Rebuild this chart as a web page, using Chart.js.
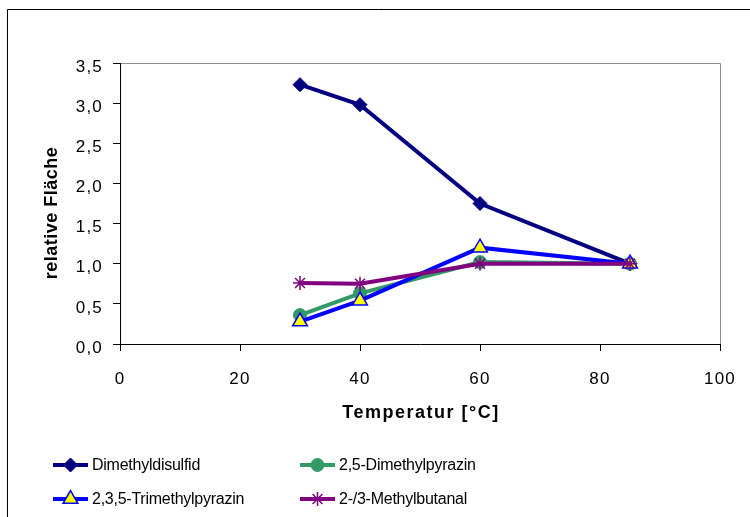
<!DOCTYPE html>
<html>
<head>
<meta charset="utf-8">
<script src="https://cdn.jsdelivr.net/npm/chart.js@4"></script>
<style>
  body{ margin:0; background:#fff; }
  #wrap{ width:750px; height:517px; }
</style>
</head>
<body>
<div id="wrap"><canvas id="chart" width="750" height="517"></canvas></div>
<script>
//--------------------------------------------------
// DATA
//--------------------------------------------------
const temps = [30, 40, 60, 85];
const dimethyldisulfid = [3.23, 2.98, 1.75, 1.0];
const dimethylpyrazin = [0.36, 0.63, 1.02, 1.0];
const trimethylpyrazin = [0.28, 0.54, 1.2, 1.0];
const methylbutanal = [0.76, 0.75, 1.0, 1.0];

const seriesNames = ["Dimethyldisulfid", "2,5-Dimethylpyrazin", "2,3,5-Trimethylpyrazin", "2-/3-Methylbutanal"];
const yTickLabels = ["0,0", "0,5", "1,0", "1,5", "2,0", "2,5", "3,0", "3,5"];
const xTickLabels = ["0", "20", "40", "60", "80", "100"];
const xTitle = "Temperatur [°C]";
const yTitle = "relative Fläche";

const FONT = "'Liberation Sans', Arial, sans-serif";

function pts(values){
  return temps.map((t, i) => ({x:t, y:values[i]}));
}

//--------------------------------------------------
// PLUGINS
//--------------------------------------------------
const frame = {
  id:"frame",
  beforeDraw(chart){
    const ctx = chart.ctx;
    ctx.save();
    ctx.fillStyle = "#fff";
    ctx.fillRect(0, 0, chart.width, chart.height);
    ctx.strokeStyle = "#000";
    ctx.lineWidth = 1;
    ctx.beginPath();
    ctx.moveTo(7.5, chart.height);
    ctx.lineTo(7.5, 9.5);
    ctx.lineTo(chart.width, 9.5);
    ctx.stroke();
    // plot area top/right border
    const a = chart.chartArea;
    ctx.strokeStyle = "#8c8c8c";
    ctx.beginPath();
    ctx.moveTo(a.left, a.top + 0.5);
    ctx.lineTo(a.right + 0.5, a.top + 0.5);
    ctx.lineTo(a.right + 0.5, a.bottom);
    ctx.stroke();
    ctx.restore();
    // wide tick labels like the original
    ctx.letterSpacing = "1.2px";
  }
};

const texts = {
  id:"texts",
  afterDraw(chart){
    const ctx = chart.ctx;
    const a = chart.chartArea;
    ctx.save();
    ctx.fillStyle = "#000";
    ctx.textAlign = "center";
    ctx.textBaseline = "middle";
    ctx.font = "bold 18px " + FONT;
    ctx.letterSpacing = "1.5px";
    ctx.fillText(xTitle, (a.left + a.right) / 2 + 1, 413);
    ctx.letterSpacing = "0.5px";
    ctx.translate(52, 213);
    ctx.rotate(-Math.PI / 2);
    ctx.fillText(yTitle, 0, 0);
    ctx.restore();

    // legend
    const spots = [[53, 465], [300, 465], [53, 499], [300, 499]];
    chart.data.datasets.forEach((ds, i) => {
      const [x, y] = spots[i];
      ctx.save();
      ctx.strokeStyle = ds.borderColor;
      ctx.lineWidth = ds.borderWidth;
      ctx.beginPath();
      ctx.moveTo(x, y);
      ctx.lineTo(x + 35, y);
      ctx.stroke();
      ctx.fillStyle = ds.pointBackgroundColor;
      ctx.strokeStyle = ds.pointBorderColor;
      ctx.lineWidth = ds.pointBorderWidth;
      Chart.helpers.drawPoint(ctx, {pointStyle:ds.pointStyle, radius:ds.pointRadius, rotation:0, borderWidth:ds.pointBorderWidth}, x + 17.5, y);
      ctx.fillStyle = "#000";
      ctx.font = "16px " + FONT;
      ctx.letterSpacing = "-0.25px";
      ctx.textBaseline = "middle";
      ctx.fillText(ds.label, x + 39, y + 1);
      ctx.restore();
    });
    ctx.letterSpacing = "0px";
  }
};

//--------------------------------------------------
// CHART
//--------------------------------------------------
new Chart(document.getElementById("chart"), {
  type:"line",
  data:{
    datasets:[
      { label:seriesNames[0], data:pts(dimethyldisulfid), borderColor:"#000080", borderWidth:4,
        pointStyle:"rectRot", pointRadius:7, pointBackgroundColor:"#000080", pointBorderColor:"#000080", pointBorderWidth:1, order:3 },
      { label:seriesNames[1], data:pts(dimethylpyrazin), borderColor:"#339966", borderWidth:4,
        pointStyle:"circle", pointRadius:6.5, pointBackgroundColor:"#339966", pointBorderColor:"#339966", pointBorderWidth:1, order:2 },
      { label:seriesNames[2], data:pts(trimethylpyrazin), borderColor:"#0000ff", borderWidth:4,
        pointStyle:"triangle", pointRadius:8.5, pointBackgroundColor:"#ffff00", pointBorderColor:"#0000ff", pointBorderWidth:1.5, order:1 },
      { label:seriesNames[3], data:pts(methylbutanal), borderColor:"#800080", borderWidth:4,
        pointStyle:"star", pointRadius:7, pointBackgroundColor:"#800080", pointBorderColor:"#800080", pointBorderWidth:1.5, order:0 }
    ]
  },
  options:{
    responsive:false,
    animation:false,
    layout:{ padding:{ left:0, top:63, right:30, bottom:83 } },
    plugins:{ legend:{ display:false }, tooltip:{ enabled:false } },
    elements:{ line:{ tension:0 } },
    scales:{
      x:{
        type:"linear", min:0, max:100,
        afterFit(s){ s.height = 90; s.paddingLeft = 0; s.paddingRight = 0; },
        grid:{ drawOnChartArea:false, drawTicks:true, tickLength:7, color:"#000" },
        border:{ color:"#000", width:1 },
        ticks:{ stepSize:20, padding:18, color:"#000", font:{ family:FONT, size:17 },
          callback:(v, i) => xTickLabels[i] }
      },
      y:{
        min:0, max:3.5,
        afterFit(s){ s.width = 120; },
        grid:{ drawOnChartArea:false, drawTicks:true, tickLength:7, color:"#000" },
        border:{ color:"#000", width:1 },
        ticks:{ stepSize:0.5, padding:10, labelOffset:4, color:"#000", font:{ family:FONT, size:17 },
          callback:(v, i) => yTickLabels[i] }
      }
    }
  },
  plugins:[frame, texts]
});
</script>
</body>
</html>
